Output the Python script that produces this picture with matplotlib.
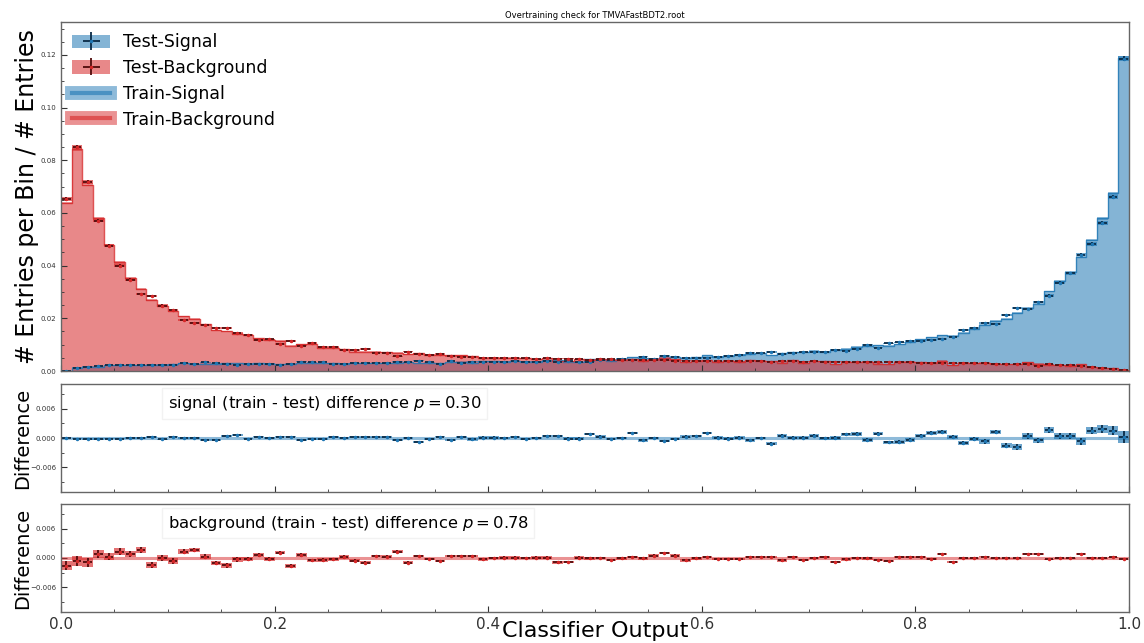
import numpy as np
import matplotlib
matplotlib.use('Agg')
import matplotlib.pyplot as plt
from matplotlib.ticker import MultipleLocator
from matplotlib.patches import Patch
from matplotlib.lines import Line2D

# classifier output binning (100 bins on [0, 1])
bin_edges = np.linspace(0.0, 1.0, 101)
bin_centers = 0.5 * (bin_edges[:-1] + bin_edges[1:])
bin_width = bin_edges[1] - bin_edges[0]

# normalised test histograms (entries per bin / entries)
signal_test = np.array([
    0.0000, 0.0013, 0.0017, 0.0019, 0.0022, 0.0022, 0.0021, 0.0022, 0.0022, 0.0024,
    0.0022, 0.0029, 0.0027, 0.0033, 0.0030, 0.0025, 0.0023, 0.0028, 0.0028, 0.0028,
    0.0023, 0.0025, 0.0035, 0.0033, 0.0034, 0.0028, 0.0028, 0.0029, 0.0029, 0.0030,
    0.0029, 0.0036, 0.0033, 0.0039, 0.0034, 0.0027, 0.0038, 0.0032, 0.0035, 0.0036,
    0.0036, 0.0035, 0.0037, 0.0036, 0.0035, 0.0037, 0.0036, 0.0037, 0.0034, 0.0035,
    0.0041, 0.0041, 0.0046, 0.0042, 0.0054, 0.0046, 0.0057, 0.0054, 0.0048, 0.0048,
    0.0051, 0.0053, 0.0057, 0.0061, 0.0068, 0.0067, 0.0072, 0.0063, 0.0070, 0.0071,
    0.0072, 0.0074, 0.0080, 0.0077, 0.0084, 0.0098, 0.0089, 0.0105, 0.0109, 0.0113,
    0.0115, 0.0118, 0.0122, 0.0131, 0.0156, 0.0162, 0.0181, 0.0177, 0.0213, 0.0238,
    0.0236, 0.0261, 0.0286, 0.0336, 0.0371, 0.0441, 0.0482, 0.0561, 0.0660, 0.1185])

background_test = np.array([
    0.0654, 0.0850, 0.0716, 0.0571, 0.0476, 0.0399, 0.0346, 0.0293, 0.0285, 0.0248,
    0.0232, 0.0194, 0.0181, 0.0174, 0.0165, 0.0165, 0.0143, 0.0137, 0.0118, 0.0120,
    0.0103, 0.0113, 0.0096, 0.0107, 0.0092, 0.0091, 0.0080, 0.0080, 0.0084, 0.0070,
    0.0069, 0.0056, 0.0073, 0.0063, 0.0062, 0.0065, 0.0057, 0.0055, 0.0052, 0.0051,
    0.0050, 0.0049, 0.0049, 0.0048, 0.0045, 0.0048, 0.0047, 0.0046, 0.0045, 0.0042,
    0.0044, 0.0044, 0.0043, 0.0043, 0.0040, 0.0041, 0.0040, 0.0039, 0.0039, 0.0039,
    0.0038, 0.0038, 0.0039, 0.0037, 0.0038, 0.0037, 0.0036, 0.0037, 0.0038, 0.0036,
    0.0037, 0.0036, 0.0035, 0.0036, 0.0034, 0.0035, 0.0033, 0.0034, 0.0033, 0.0033,
    0.0032, 0.0032, 0.0031, 0.0030, 0.0031, 0.0030, 0.0029, 0.0028, 0.0027, 0.0026,
    0.0025, 0.0020, 0.0025, 0.0023, 0.0021, 0.0019, 0.0015, 0.0012, 0.0008, 0.0004])

# train - test differences
signal_diff = np.array([
    0.0000, -0.0001, -0.0002, -0.0002, -0.0001, -0.0001, 0.0000, 0.0000, 0.0002, -0.0003,
    0.0003, 0.0000, 0.0000, -0.0005, -0.0004, 0.0004, 0.0006, -0.0001, 0.0003, 0.0000,
    0.0003, 0.0003, -0.0004, -0.0003, -0.0003, 0.0002, 0.0000, 0.0002, 0.0002, 0.0002,
    0.0002, -0.0004, 0.0001, -0.0008, -0.0002, 0.0003, -0.0004, 0.0003, -0.0003, 0.0001,
    0.0001, 0.0000, 0.0002, -0.0002, 0.0000, 0.0005, 0.0004, -0.0001, -0.0001, 0.0009,
    0.0003, -0.0002, 0.0000, 0.0010, -0.0005, 0.0000, -0.0006, -0.0002, 0.0003, 0.0004,
    0.0010, 0.0001, -0.0001, 0.0001, -0.0005, 0.0000, -0.0012, 0.0005, 0.0001, 0.0001,
    0.0005, 0.0000, 0.0000, 0.0008, 0.0008, -0.0004, 0.0009, -0.0009, -0.0008, -0.0004,
    0.0005, 0.0010, 0.0013, 0.0002, -0.0010, -0.0002, -0.0007, 0.0012, -0.0016, -0.0018,
    0.0004, -0.0005, 0.0016, 0.0004, 0.0004, -0.0007, 0.0015, 0.0018, 0.0015, 0.0003])

background_diff = np.array([
    -0.0016, -0.0007, -0.0009, 0.0008, 0.0003, 0.0013, 0.0008, 0.0017, -0.0015, 0.0000,
    -0.0006, 0.0013, 0.0016, 0.0003, -0.0010, -0.0015, -0.0003, -0.0002, 0.0006, -0.0002,
    0.0011, -0.0017, 0.0006, -0.0005, -0.0004, -0.0003, 0.0002, -0.0006, -0.0010, 0.0004,
    0.0003, 0.0013, -0.0010, 0.0004, -0.0002, -0.0006, 0.0004, 0.0004, 0.0004, -0.0003,
    0.0000, 0.0001, 0.0001, 0.0000, 0.0001, 0.0001, -0.0009, -0.0008, 0.0001, -0.0001,
    0.0000, -0.0004, -0.0001, 0.0002, -0.0001, 0.0005, 0.0010, 0.0005, -0.0005, -0.0001,
    0.0002, -0.0002, -0.0002, -0.0002, 0.0002, 0.0002, 0.0002, -0.0005, 0.0002, -0.0005,
    0.0000, 0.0002, -0.0008, -0.0003, -0.0001, -0.0001, -0.0005, -0.0007, 0.0002, 0.0002,
    0.0002, -0.0003, 0.0008, -0.0009, -0.0001, -0.0001, 0.0003, -0.0001, -0.0001, -0.0001,
    0.0008, 0.0008, -0.0003, -0.0001, -0.0001, 0.0008, 0.0000, -0.0001, 0.0002, -0.0002])

p_signal = 0.30
p_background = 0.78

# sample sizes used for the statistical error bands
n_test = 120000
n_train = 240000

signal_train = signal_test + signal_diff
background_train = background_test + background_diff

sig_color, sig_dark = '#1f77b4', '#0a2a45'
bkg_color, bkg_dark = '#d62728', '#500b0b'


def draw_train(ax, values, color):
    vals = np.append(values, values[-1])
    ax.fill_between(bin_edges, vals, step='post', color=color, alpha=0.55, lw=0)
    err = np.sqrt(np.clip(values, 0, None) / n_train)
    ax.bar(bin_centers, 2 * err, bottom=values - err, width=bin_width,
           color=color, alpha=0.45, lw=0)
    ax.step(bin_edges, vals, where='post', color=color, lw=1.0, alpha=0.8)


def draw_points(ax, values, err, color, dark):
    ax.bar(bin_centers, 2 * err, bottom=values - err, width=bin_width,
           color=color, alpha=0.65, lw=0)
    eb = ax.errorbar(bin_centers, values, xerr=0.4 * bin_width, yerr=err,
                     fmt='o', ms=1.5, mfc=color, mec=color, ecolor=dark,
                     elinewidth=1.3, capsize=0)
    return eb


def style_axis(ax):
    ax.tick_params(which='both', direction='in', labelsize=5, colors='#333333')
    ax.tick_params(which='major', length=4)
    ax.tick_params(which='minor', length=2)
    ax.xaxis.set_major_locator(MultipleLocator(0.2))
    ax.xaxis.set_minor_locator(MultipleLocator(0.05))
    ax.set_xlim(0, 1)
    for s in ax.spines.values():
        s.set_color('#666666')
        s.set_linewidth(1.0)


fig = plt.figure(figsize=(11.44, 6.43), dpi=100)
ax1 = fig.add_axes([0.0533, 0.423, 0.9336, 0.5428])
ax2 = fig.add_axes([0.0533, 0.2348, 0.9336, 0.168])
ax3 = fig.add_axes([0.0533, 0.0482, 0.9336, 0.168])

# main panel
draw_train(ax1, signal_train, sig_color)
draw_train(ax1, background_train, bkg_color)
eb_sig = draw_points(ax1, signal_test, np.sqrt(signal_test / n_test), sig_color, sig_dark)
eb_bkg = draw_points(ax1, background_test, np.sqrt(background_test / n_test), bkg_color, bkg_dark)

style_axis(ax1)
ax1.set_ylim(0, 0.1325)
ax1.yaxis.set_major_locator(MultipleLocator(0.02))
ax1.yaxis.set_minor_locator(MultipleLocator(0.005))
ax1.tick_params(labelbottom=False)
ax1.set_ylabel('# Entries per Bin / # Entries', fontsize=17)
ax1.yaxis.set_label_coords(-0.021, 0.5)
ax1.set_title('Overtraining check for TMVAFastBDT2.root', fontsize=6, pad=3)

handles = [
    (Patch(facecolor=sig_color, alpha=0.55, lw=0), eb_sig),
    (Patch(facecolor=bkg_color, alpha=0.55, lw=0), eb_bkg),
    (Line2D([], [], color=sig_color, lw=10, alpha=0.5),
     Line2D([], [], color=sig_color, lw=3, alpha=0.6)),
    (Line2D([], [], color=bkg_color, lw=10, alpha=0.5),
     Line2D([], [], color=bkg_color, lw=3, alpha=0.6)),
]
labels = ['Test-Signal', 'Test-Background', 'Train-Signal', 'Train-Background']
ax1.legend(handles, labels, loc='upper left', fontsize=12.5, frameon=False,
           handlelength=2.2, handleheight=0.8, borderaxespad=0.25, labelspacing=0.45,
           handletextpad=0.7)

# difference panels
panels = [
    (ax2, signal_diff, signal_test, sig_color, sig_dark,
     r'signal (train - test) difference $p={:.2f}$'.format(p_signal)),
    (ax3, background_diff, background_test, bkg_color, bkg_dark,
     r'background (train - test) difference $p={:.2f}$'.format(p_background)),
]
for ax, diff, ref, color, dark, text in panels:
    ax.axhline(0, color=color, alpha=0.5, lw=2.2)
    err = np.sqrt(ref * (1.0 / n_test + 1.0 / n_train))
    draw_points(ax, diff, err, color, dark)
    style_axis(ax)
    ax.set_ylim(-0.011, 0.011)
    ax.yaxis.set_major_locator(MultipleLocator(0.006))
    ax.yaxis.set_minor_locator(MultipleLocator(0.003))
    ax.set_ylabel('Difference', fontsize=14)
    ax.yaxis.set_label_coords(-0.027, 0.5)
    ax.text(0.1, 0.82, text, transform=ax.transAxes, fontsize=11.8, va='center',
            bbox=dict(facecolor='white', alpha=0.5, edgecolor='#e6e6e6', pad=4))

ax2.tick_params(labelbottom=False)
ax3.tick_params(axis='x', labelsize=11)
ax3.set_xlabel('Classifier Output', fontsize=16)
ax3.xaxis.set_label_coords(0.5, -0.085)

fig.savefig('out.png', dpi=100)
